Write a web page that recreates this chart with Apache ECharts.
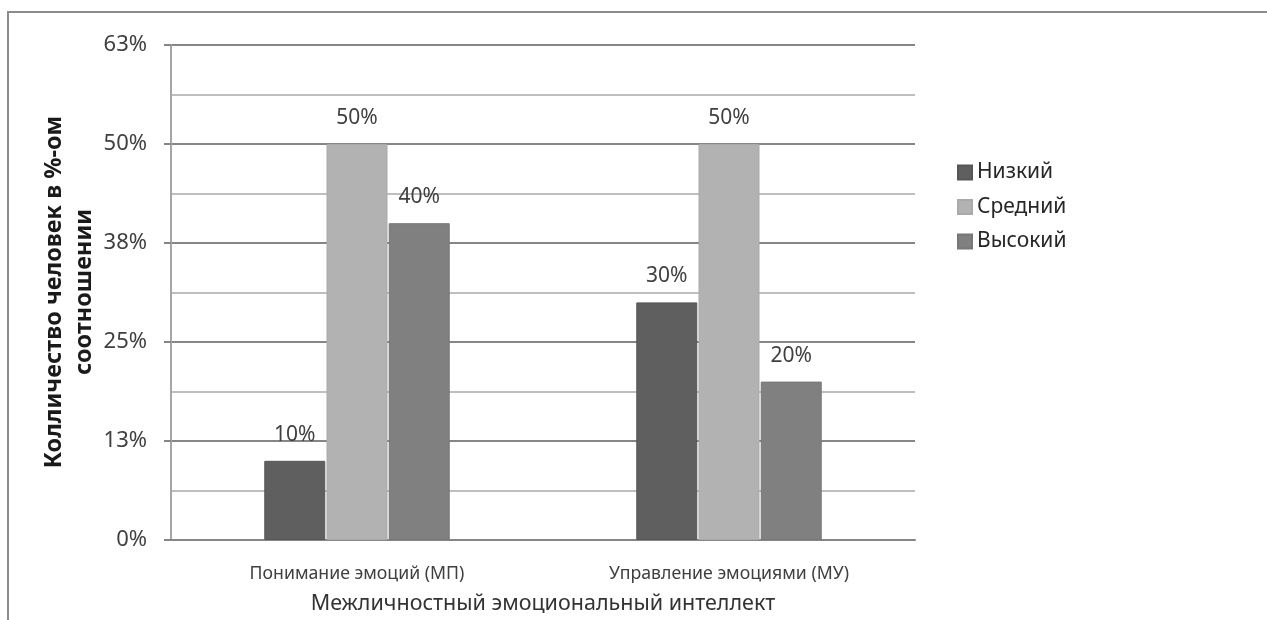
<!DOCTYPE html>
<html>
<head>
<meta charset="utf-8">
<script src="https://cdn.jsdelivr.net/npm/echarts@6/dist/echarts.min.js"></script>
<style>
html,body{margin:0;padding:0;background:#fff;}
#chart{width:1267px;height:620px;}
</style>
</head>
<body>
<div id="chart"></div>
<script>
var categories = ['Понимание эмоций (МП)', 'Управление эмоциями (МУ)'];
var seriesNames = ['Низкий', 'Средний', 'Высокий'];
var lowValues = [10, 30];
var midValues = [50, 50];
var highValues = [40, 20];
var seriesColors = ['#5f5f5f', '#b2b2b2', '#808080'];
var seriesBorders = ['#565656', '#a9a9a9', '#777777'];
var yTitle = 'Колличество человек в %-ом\nсоотношении';
var xTitle = 'Межличностный эмоциональный интеллект';

var FONT = 'Noto Sans';
var allValues = [lowValues, midValues, highValues];

var chart = echarts.init(document.getElementById('chart'));
var series = seriesNames.map(function (name, i) {
  return {
    name: name,
    type: 'bar',
    data: allValues[i],
    barWidth: 61,
    barGap: '2%',
    itemStyle: { color: seriesColors[i], borderColor: seriesBorders[i], borderWidth: 1 },
    label: {
      show: true,
      position: 'top',
      distance: 15,
      formatter: '{c}%',
      color: '#404040',
      fontFamily: FONT,
      fontSize: 21,
      lineHeight: 22
    }
  };
});

chart.setOption({
  animation: false,
  backgroundColor: '#ffffff',
  grid: { left: 171, right: 352, top: 45, bottom: 77, containLabel: false },
  legend: {
    orient: 'vertical',
    left: 952,
    top: 157,
    itemWidth: 14,
    itemHeight: 14,
    itemGap: 13.5,
    icon: 'rect',
    data: seriesNames,
    textStyle: { fontFamily: FONT, fontSize: 21, lineHeight: 21, color: '#262626' }
  },
  xAxis: {
    type: 'category',
    data: categories,
    name: xTitle,
    nameLocation: 'middle',
    nameGap: 53,
    nameTextStyle: { fontFamily: FONT, fontSize: 21.5, color: '#333333' },
    axisLine: { show: true, lineStyle: { color: '#868686', width: 2 } },
    axisTick: { show: false },
    axisLabel: { margin: 25, fontFamily: FONT, fontSize: 17.7, color: '#404040' }
  },
  yAxis: {
    type: 'value',
    min: 0,
    max: 62.5,
    interval: 12.5,
    axisLine: { show: true, lineStyle: { color: '#a6a6a6', width: 2 } },
    axisTick: { show: true, length: 7, lineStyle: { color: '#868686', width: 2 } },
    axisLabel: {
      margin: 24,
      fontFamily: FONT,
      fontSize: 22,
      color: '#404040',
      formatter: function (v) { return Math.round(v) + '%'; }
    },
    splitLine: { show: true, lineStyle: { color: '#868686', width: 2 } },
    minorTick: { show: false, splitNumber: 2 },
    minorSplitLine: { show: true, lineStyle: { color: '#bfbfbf', width: 2 } }
  },
  graphic: [
    {
      type: 'rect',
      shape: { x: 8, y: 12, width: 1400, height: 800 },
      style: { fill: 'none', stroke: '#8c8c8c', lineWidth: 2 },
      silent: true,
      z: -1
    },
    {
      type: 'text',
      x: 69,
      y: 292,
      rotation: Math.PI / 2,
      style: {
        text: yTitle,
        fontFamily: FONT,
        fontSize: 23.5,
        fontWeight: 'bold',
        lineHeight: 30,
        fill: '#1a1a1a',
        align: 'center',
        verticalAlign: 'middle'
      }
    }
  ],
  series: series
});
</script>
</body>
</html>
